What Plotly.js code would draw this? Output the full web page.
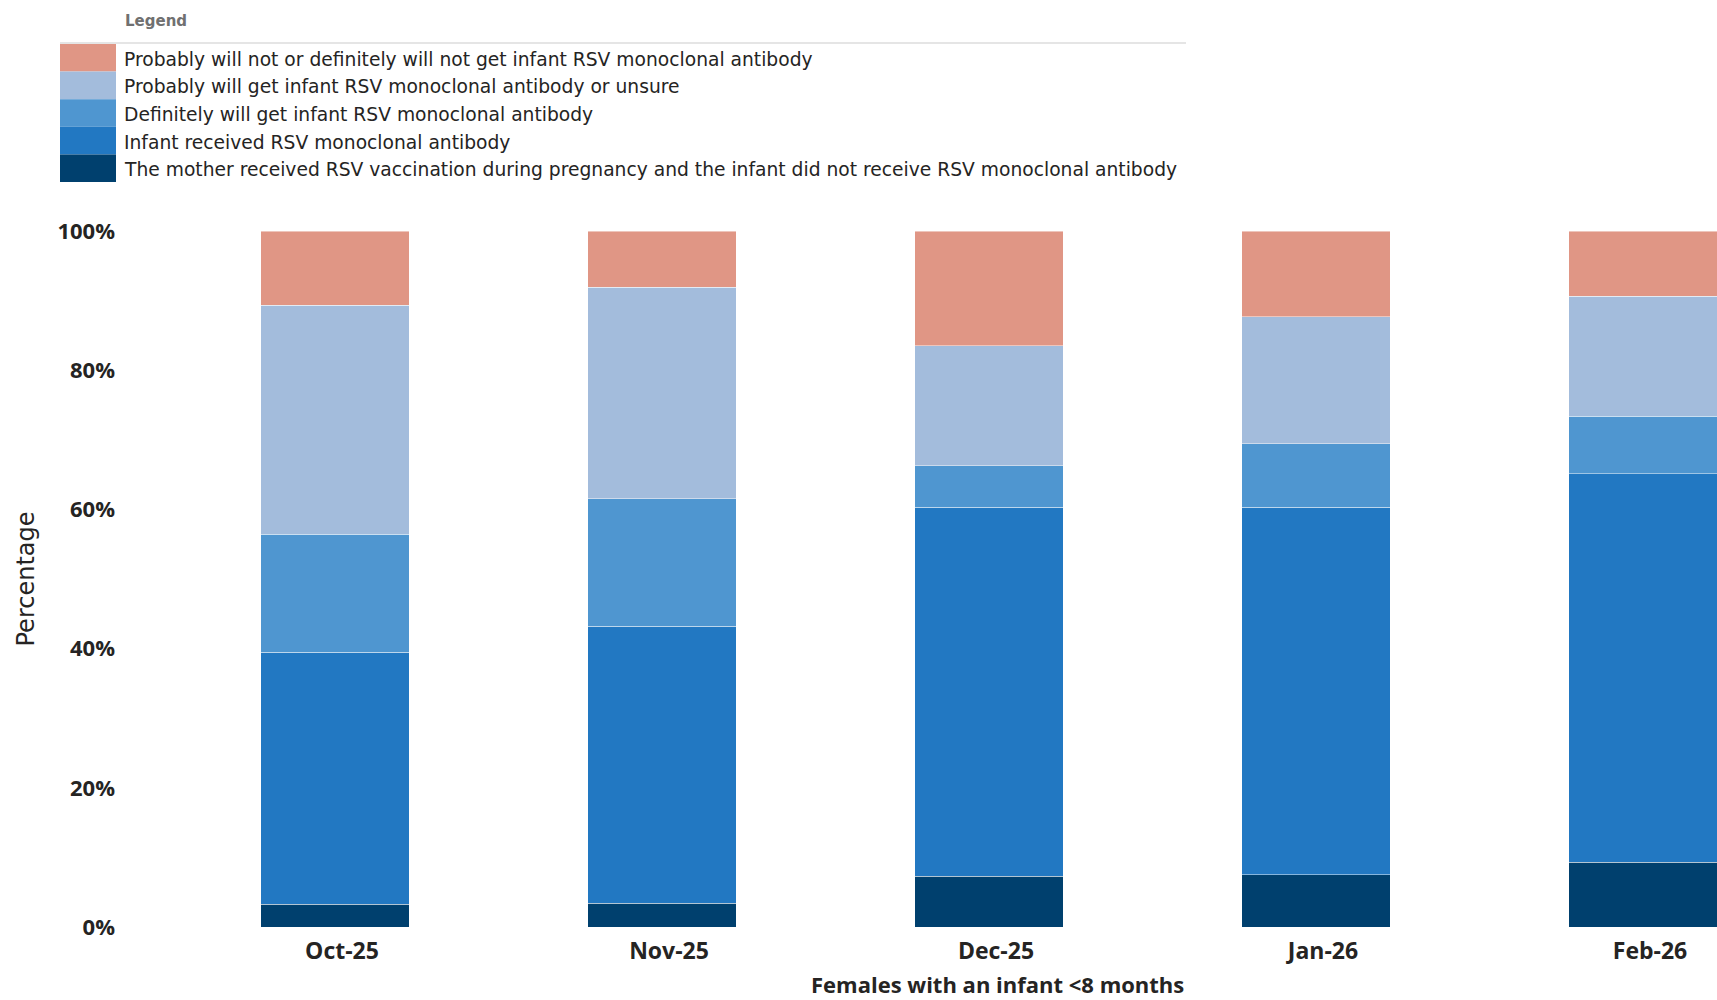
<!DOCTYPE html>
<html><head><meta charset="utf-8">
<script src="https://cdn.plot.ly/plotly-3.0.1.min.js"></script>
<style>html,body{margin:0;padding:0;background:#fff;}#chart{width:1717px;height:1000px;}</style>
</head><body><div id="chart"></div>
<script>
// ---- data (percent of respondents) ----
const months = ["Oct-25", "Nov-25", "Dec-25", "Jan-26", "Feb-26"];
const motherVaccinated = [3.3, 3.4, 7.3, 7.5, 9.3];
const infantReceived = [36.2, 39.8, 53.0, 52.8, 55.8];
const definitelyWill = [16.9, 18.3, 6.0, 9.1, 8.3];
const probablyWillOrUnsure = [32.9, 30.4, 17.2, 18.3, 17.2];
const probablyNot = [10.7, 8.1, 16.5, 12.3, 9.4];

const nameMother = "The mother received RSV vaccination during pregnancy and the infant did not receive RSV monoclonal antibody";
const nameInfant = "Infant received RSV monoclonal antibody";
const nameDefinitely = "Definitely will get infant RSV monoclonal antibody";
const nameProbably = "Probably will get infant RSV monoclonal antibody or unsure";
const nameNot = "Probably will not or definitely will not get infant RSV monoclonal antibody";
const yTicks = [0, 20, 40, 60, 80, 100];
const yTickLabels = ["0%", "20%", "40%", "60%", "80%", "100%"];

// ---- styles ----
const cMother = "#00406E", cInfant = "#2278C2", cDef = "#4F96D0", cProb = "#A3BCDC", cNot = "#E09685";
const W = 1717, H = 1000, L = 120, T = 231, B = 73;
const plotW = W - L, plotH = H - T - B;
const px2x = p => (p - L) / plotW;
const px2y = p => (H - B - p) / plotH;
const fontBold = "'Open Sans', 'Noto Sans', sans-serif";
const fontReg = "'DejaVu Sans', 'Noto Sans', sans-serif";
const txt = "#252423";

const stack = [
  [motherVaccinated, nameMother, cMother],
  [infantReceived, nameInfant, cInfant],
  [definitelyWill, nameDefinitely, cDef],
  [probablyWillOrUnsure, nameProbably, cProb],
  [probablyNot, nameNot, cNot]
];
const traces = stack.map(([v, n, c]) => ({
  type: "bar", x: months, y: v, name: n,
  marker: {color: c, line: {color: "rgba(255,255,255,0.45)", width: 1}},
  hovertemplate: "%{x}: %{y:.1f}%<extra>" + n + "</extra>"
}));

// custom legend (top to bottom), built from the series
const legendItems = stack.slice().reverse();
const shapes = [{type: "line", xref: "paper", yref: "paper",
  x0: px2x(60), x1: px2x(1186), y0: px2y(43), y1: px2y(43),
  line: {color: "#dcdcdc", width: 1.5}}];
const annotations = [{xref: "paper", yref: "paper", x: px2x(123), y: px2y(21),
  xanchor: "left", yanchor: "middle", showarrow: false, text: "<b>Legend</b>",
  font: {family: fontReg, size: 15, color: "#707070"}}];
const rowTop = 44, rowH = 27.6;
legendItems.forEach(([v, n, c], i) => {
  const y0 = rowTop + i * rowH, y1 = y0 + rowH;
  shapes.push({type: "rect", xref: "paper", yref: "paper",
    x0: px2x(60), x1: px2x(116), y0: px2y(y1), y1: px2y(y0),
    fillcolor: c, line: {width: 0}});
  annotations.push({xref: "paper", yref: "paper", x: px2x(122), y: px2y((y0 + y1) / 2 + 1.5),
    xanchor: "left", yanchor: "middle", showarrow: false, text: n,
    font: {family: fontReg, size: 18.7, color: txt}});
});
annotations.push({xref: "paper", yref: "paper", x: px2x(997), y: px2y(984),
  xanchor: "center", yanchor: "middle", showarrow: false, borderpad: 0,
  text: "<b>Females with an infant &lt;8 months</b>",
  font: {family: fontBold, size: 22, color: txt}});

const catStep = 327;
const x0 = -(335 - L) / catStep;
const layout = {
  width: W, height: H,
  margin: {l: L, r: 0, t: T, b: B, pad: 0},
  paper_bgcolor: "#fff", plot_bgcolor: "#fff",
  barmode: "stack", bargap: 1 - 148.6 / catStep,
  showlegend: false,
  xaxis: {type: "category", range: [x0, x0 + plotW / catStep],
    showgrid: false, zeroline: false, showline: false, ticks: "",
    ticklabelstandoff: 8, ticklabelshift: 7,
    tickfont: {family: fontBold, size: 23, color: txt, weight: "bold"}},
  yaxis: {range: [0, 100], tickmode: "array", tickvals: yTicks, ticktext: yTickLabels,
    showgrid: false, zeroline: false, showline: false, ticks: "",
    ticklabelstandoff: 4,
    tickfont: {family: fontBold, size: 22, color: txt, weight: "bold"},
    title: {text: "Percentage", standoff: 16, font: {family: fontReg, size: 24, color: txt}}},
  shapes: shapes, annotations: annotations,
  font: {family: fontBold}
};
Plotly.newPlot("chart", traces, layout, {displayModeBar: false});
</script>
</body></html>
